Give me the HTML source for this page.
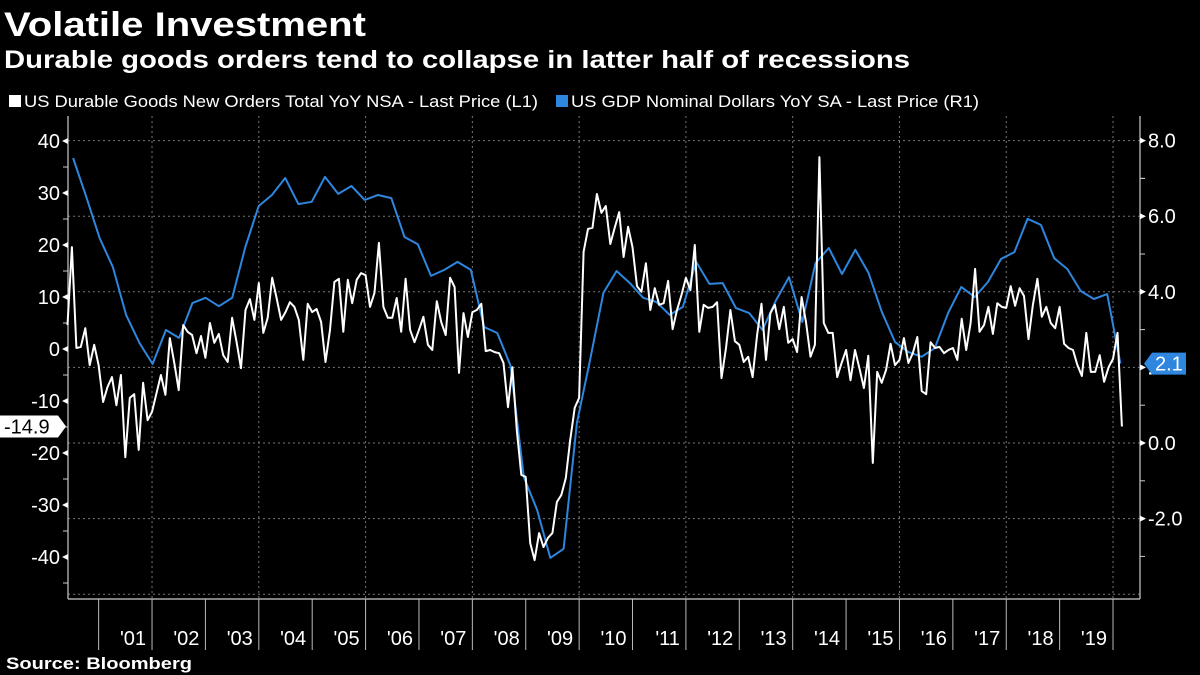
<!DOCTYPE html>
<html><head><meta charset="utf-8"><style>
html,body{margin:0;padding:0;background:#000;width:1200px;height:675px;overflow:hidden}
svg{display:block;font-family:"Liberation Sans",sans-serif}
</style></head><body>
<svg id="chart" width="1200" height="675" viewBox="0 0 1200 675">
<text x="4" y="36" fill="#fff" font-size="34" font-weight="bold" textLength="362" lengthAdjust="spacingAndGlyphs">Volatile Investment</text>
<text x="4" y="68" fill="#fff" font-size="25" font-weight="bold" textLength="906" lengthAdjust="spacingAndGlyphs">Durable goods orders tend to collapse in latter half of recessions</text>
<g>
<rect x="9" y="95" width="12" height="12" fill="#fff"/>
<text x="24" y="107" fill="#fff" font-size="17" textLength="514" lengthAdjust="spacingAndGlyphs">US Durable Goods New Orders Total YoY NSA - Last Price (L1)</text>
<rect x="556" y="95" width="12" height="12" fill="#2e86de"/>
<text x="571" y="107" fill="#fff" font-size="17" textLength="408" lengthAdjust="spacingAndGlyphs">US GDP Nominal Dollars YoY SA - Last Price (R1)</text>
</g>
<g id="grid"></g><g id="axes"></g><g id="series"></g><g id="labels"></g>
<text x="6" y="669" fill="#fff" font-size="17" font-weight="bold" textLength="186" lengthAdjust="spacingAndGlyphs">Source: Bloomberg</text>
</svg>
<script>
const yearLabels = ["'01","'02","'03","'04","'05","'06","'07","'08","'09","'10","'11","'12","'13","'14","'15","'16","'17","'18","'19"];
const leftTicks = [40,30,20,10,0,-10,-20,-30,-40];
const rightTicks = [8,6,4,2,0,-2];
const durable = [4.6,19.6,0.2,0.4,4.0,-3.1,0.8,-3.1,-10.2,-7.3,-5.4,-10.8,-5.0,-20.8,-9.4,-8.7,-19.4,-6.5,-13.7,-12.1,-8.5,-5.0,-8.8,2.1,-2.7,-7.9,4.6,3.3,2.7,-0.8,2.5,-1.7,5.0,1.2,2.9,-1.2,-2.5,6.0,1.3,-3.7,7.5,9.6,5.6,12.7,3.1,6.0,13.7,9.8,5.6,7.1,9.0,8.1,5.6,-2.1,8.7,7.1,7.7,5.2,-2.5,3.7,12.9,13.5,3.3,13.3,8.8,13.3,14.6,14.2,8.1,10.8,20.4,8.1,6.0,6.0,9.8,3.3,13.5,3.7,1.3,3.7,6.2,0.8,-0.2,9.2,5.2,2.7,13.7,11.9,-4.6,6.9,2.3,7.1,7.5,8.7,-0.4,-0.2,-0.6,-0.8,-2.7,-11.2,-3.5,-15.6,-24.2,-24.6,-37.3,-40.6,-35.4,-38.1,-36.3,-35.4,-29.4,-28.1,-24.8,-17.5,-11.3,-9.4,18.7,23.1,23.3,29.8,26.2,27.5,20.2,23.3,26.3,17.7,23.5,19.6,12.1,11.0,16.5,7.5,11.7,8.5,8.8,13.1,3.8,7.5,10.4,13.7,11.3,20.0,3.3,8.5,7.9,8.1,9.0,-5.6,0.2,7.5,1.5,0.8,-2.5,-1.5,-5.4,2.7,8.7,-2.1,6.9,8.5,3.8,8.1,1.2,1.9,-0.6,10.0,5.2,-1.5,0.8,36.9,5.0,3.1,3.1,-5.4,-2.7,-0.2,-6.0,-0.2,-3.7,-7.5,-1.3,-21.9,-4.4,-6.5,-4.0,1.0,-3.1,-2.1,2.1,-2.7,-0.8,2.3,-8.1,-8.7,1.3,0.2,0.4,-0.8,-0.2,0.2,-2.1,5.8,-0.2,5.0,15.4,3.3,4.6,8.1,2.9,8.8,8.1,7.9,12.1,8.3,11.7,10.2,1.9,8.5,13.5,6.2,8.1,5.0,4.0,8.1,1.0,0.2,-0.2,-3.1,-5.2,3.1,-4.4,-4.4,-1.2,-6.3,-3.5,-1.9,3.1,-14.9];
const gdp = [7.54,6.51,5.42,4.66,3.39,2.65,2.09,2.99,2.78,3.70,3.84,3.62,3.84,5.19,6.27,6.56,7.01,6.32,6.38,7.04,6.59,6.80,6.43,6.56,6.48,5.45,5.26,4.42,4.58,4.79,4.58,3.07,2.91,2.04,-0.90,-1.77,-3.04,-2.80,0.53,2.20,3.97,4.55,4.23,3.84,3.73,3.39,3.60,4.79,4.21,4.23,3.57,3.44,2.99,3.76,4.39,3.20,4.76,5.16,4.47,5.11,4.50,3.47,2.67,2.41,2.28,2.51,3.44,4.13,3.86,4.26,4.87,5.05,5.93,5.77,4.89,4.60,4.02,3.81,3.94,2.1];

const NS="http://www.w3.org/2000/svg";
const X0=68,X1=1140,YB=599,YT=116;
const xm = m => 67.5 + 4.449*m;           // month index (0 = Jun 2000)
const yL = v => 349 - v*5.2;
const yR = v => 443 - v*37.8;
function mk(tag, attrs, parent){const e=document.createElementNS(NS,tag);for(const k in attrs)e.setAttribute(k,attrs[k]);parent.appendChild(e);return e;}
const grid=document.getElementById('grid'),axes=document.getElementById('axes'),series=document.getElementById('series'),labels=document.getElementById('labels');

[8,6,4,2,0,-2,-4].forEach(v=>{
  const l=mk('line',{x1:X0,x2:X1,y1:yR(v),y2:yR(v),stroke:'#777','stroke-width':1,'stroke-dasharray':'2,3'},grid);
  
  
});
for(let i=0;i<10;i++){
  const x=xm(19+24*i);
  const l=mk('line',{x1:x,x2:x,y1:YT,y2:YB,stroke:'#777','stroke-width':1,'stroke-dasharray':'2,3'},grid);
  
  
}
let a=mk('line',{x1:X0,x2:X0,y1:YT,y2:YB,stroke:'#ccc','stroke-width':1.2},axes);

a=mk('line',{x1:X1,x2:X1,y1:YT,y2:YB,stroke:'#ccc','stroke-width':1.2},axes);

a=mk('line',{x1:X0,x2:X1,y1:YB,y2:YB,stroke:'#ccc','stroke-width':1.2},axes);


leftTicks.forEach(v=>{
  const y=yL(v);
  const t=mk('polygon',{points:`${X0-6},${y} ${X0},${y-3} ${X0},${y+3}`,fill:'#fff'},axes);
  
  const s=mk('text',{x:X0-8,y:y+7,fill:'#fff','font-size':20,'text-anchor':'end'},labels);
  s.textContent=String(v);
  
  if(v>-40){const mn=mk('line',{x1:X0-5,x2:X0,y1:yL(v-5),y2:yL(v-5),stroke:'#ccc'},axes);
  }
});
{const mn=mk('line',{x1:X0-5,x2:X0,y1:yL(-45),y2:yL(-45),stroke:'#ccc'},axes);
}
rightTicks.forEach(v=>{
  const y=yR(v);
  const t=mk('polygon',{points:`${X1+6},${y} ${X1},${y-3} ${X1},${y+3}`,fill:'#fff'},axes);
  
  const s=mk('text',{x:X1+8,y:y+7,fill:'#fff','font-size':20},labels);
  s.textContent=v.toFixed(1);
  
  const mn=mk('line',{x1:X1,x2:X1+5,y1:yR(v-1),y2:yR(v-1),stroke:'#ccc'},axes);
  
});
{const mn=mk('line',{x1:X1,x2:X1+5,y1:yR(7),y2:yR(7),stroke:'#ccc'},axes);
}
for(let i=0;i<=yearLabels.length;i++){
  const x=xm(7+12*i);
  const l=mk('line',{x1:x,x2:x,y1:YB,y2:650,stroke:'#bbb','stroke-width':1},axes);
  
}
yearLabels.forEach((lab,i)=>{
  const x=xm(7+12*i+12)-6;
  const s=mk('text',{x:x,y:645,fill:'#fff','font-size':20,'text-anchor':'end'},labels);
  s.textContent=lab;
  
});
const gp=gdp.map((v,k)=>`${xm(1.25+2.98*k).toFixed(1)},${yR(v).toFixed(1)}`).join(' ');
const gl=mk('polyline',{points:gp,fill:'none',stroke:'#2e86de','stroke-width':2,'stroke-linejoin':'round'},series);

const dp=durable.map((v,m)=>`${xm(m).toFixed(1)},${yL(v).toFixed(1)}`).join(' ');
const dl=mk('polyline',{points:dp,fill:'none',stroke:'#fff','stroke-width':2,'stroke-linejoin':'round'},series);

const lv=durable[durable.length-1], ly=yL(lv);
const lt=mk('polygon',{points:`0,${ly-11} 58,${ly-11} 66,${ly} 58,${ly+11} 0,${ly+11}`,fill:'#fff'},labels);

const ltx=mk('text',{x:4,y:ly+7,fill:'#000','font-size':20},labels);
ltx.textContent=lv.toFixed(1);

const gv=gdp[gdp.length-1], gy=yR(gv);
const rt=mk('polygon',{points:`${X1+4},${gy} ${X1+12},${gy-11} 1186,${gy-11} 1186,${gy+11} ${X1+12},${gy+11}`,fill:'#2e86de'},labels);

const rtx=mk('text',{x:X1+15,y:gy+7,fill:'#fff','font-size':20},labels);
rtx.textContent=gv.toFixed(1);

</script>
</body></html>
